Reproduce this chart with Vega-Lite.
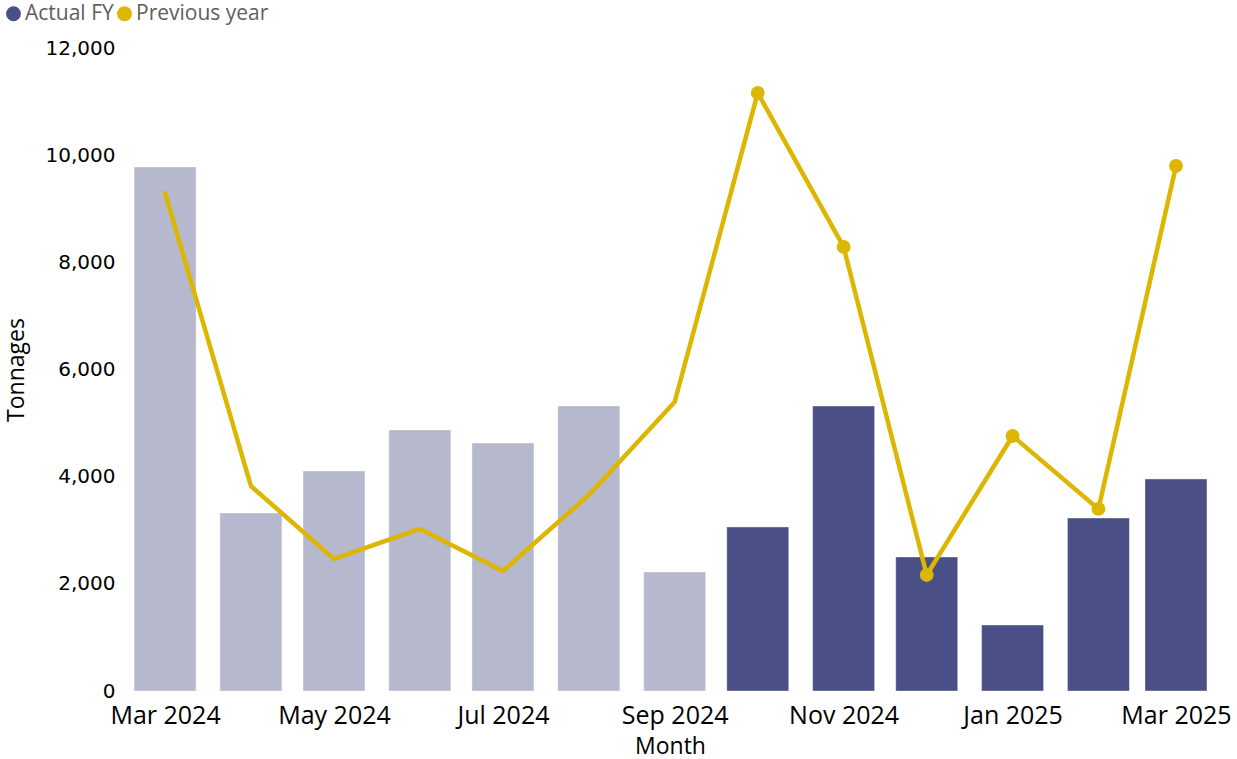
{
  "$schema": "https://vega.github.io/schema/vega-lite/v6.json",
  "width": 1090,
  "height": 643,
  "autosize": {"type": "none"},
  "padding": {"left": 125, "top": 48, "right": 22, "bottom": 68},
  "background": "white",
  "config": {
    "view": {"stroke": null},
    "font": "Open Sans"
  },
  "data": {
    "values": [
      {"month": "2024-03-01", "series": "Actual FY", "value": 9780, "period": "earlier"},
      {"month": "2024-04-01", "series": "Actual FY", "value": 3322, "period": "earlier"},
      {"month": "2024-05-01", "series": "Actual FY", "value": 4106, "period": "earlier"},
      {"month": "2024-06-01", "series": "Actual FY", "value": 4871, "period": "earlier"},
      {"month": "2024-07-01", "series": "Actual FY", "value": 4629, "period": "earlier"},
      {"month": "2024-08-01", "series": "Actual FY", "value": 5319, "period": "earlier"},
      {"month": "2024-09-01", "series": "Actual FY", "value": 2221, "period": "earlier"},
      {"month": "2024-10-01", "series": "Actual FY", "value": 3061, "period": "selected"},
      {"month": "2024-11-01", "series": "Actual FY", "value": 5319, "period": "selected"},
      {"month": "2024-12-01", "series": "Actual FY", "value": 2501, "period": "selected"},
      {"month": "2025-01-01", "series": "Actual FY", "value": 1232, "period": "selected"},
      {"month": "2025-02-01", "series": "Actual FY", "value": 3229, "period": "selected"},
      {"month": "2025-03-01", "series": "Actual FY", "value": 3957, "period": "selected"},
      {"month": "2024-03-01", "series": "Previous year", "value": 9295, "period": "earlier"},
      {"month": "2024-04-01", "series": "Previous year", "value": 3826, "period": "earlier"},
      {"month": "2024-05-01", "series": "Previous year", "value": 2464, "period": "earlier"},
      {"month": "2024-06-01", "series": "Previous year", "value": 3024, "period": "earlier"},
      {"month": "2024-07-01", "series": "Previous year", "value": 2240, "period": "earlier"},
      {"month": "2024-08-01", "series": "Previous year", "value": 3658, "period": "earlier"},
      {"month": "2024-09-01", "series": "Previous year", "value": 5394, "period": "earlier"},
      {"month": "2024-10-01", "series": "Previous year", "value": 11161, "period": "selected"},
      {"month": "2024-11-01", "series": "Previous year", "value": 8287, "period": "selected"},
      {"month": "2024-12-01", "series": "Previous year", "value": 2165, "period": "selected"},
      {"month": "2025-01-01", "series": "Previous year", "value": 4759, "period": "selected"},
      {"month": "2025-02-01", "series": "Previous year", "value": 3397, "period": "selected"},
      {"month": "2025-03-01", "series": "Previous year", "value": 9798, "period": "selected"}
    ]
  },
  "encoding": {
    "x": {
      "field": "month",
      "type": "temporal",
      "title": "Month",
      "scale": {
        "type": "utc",
        "nice": false,
        "padding": 0,
        "domain": [
          {"year": 2024, "month": 2, "date": 15, "hours": 13, "utc": true},
          {"year": 2025, "month": 3, "date": 15, "hours": 2, "utc": true}
        ]
      },
      "axis": {
        "format": "%b %Y",
        "tickCount": {"interval": "month", "step": 2},
        "domain": false,
        "ticks": false,
        "grid": false,
        "labelFont": "Open Sans",
        "labelFontSize": 25,
        "labelColor": "#000000",
        "labelPadding": 12,
        "labelOverlap": false,
        "labelFlush": false,
        "titleFont": "Open Sans",
        "titleFontSize": 23,
        "titleFontWeight": "normal",
        "titleColor": "#000000",
        "titlePadding": 7
      }
    },
    "y": {
      "field": "value",
      "type": "quantitative",
      "title": "Tonnages",
      "scale": {"domain": [0, 12000], "nice": false, "zero": true},
      "axis": {
        "values": [0, 2000, 4000, 6000, 8000, 10000, 12000],
        "format": ",d",
        "domain": false,
        "ticks": false,
        "grid": false,
        "labelFont": "DejaVu Sans",
        "labelFontSize": 20,
        "labelColor": "#000000",
        "labelPadding": 10,
        "titleFont": "Open Sans",
        "titleFontSize": 23,
        "titleFontWeight": "normal",
        "titleColor": "#000000",
        "titlePadding": 17
      }
    }
  },
  "layer": [
    {
      "transform": [{"filter": "datum.series === 'Actual FY'"}],
      "mark": {"type": "bar", "width": 62, "stroke": "#ffffff", "strokeOpacity": 0.4, "strokeWidth": 1},
      "encoding": {
        "color": {
          "field": "series",
          "type": "nominal",
          "scale": {"domain": ["Actual FY", "Previous year"], "range": ["#4A5085", "#DCB600"]},
          "legend": {
            "title": null,
            "orient": "none",
            "direction": "horizontal",
            "legendX": -122,
            "legendY": -45,
            "symbolType": "circle",
            "symbolSize": 220,
            "symbolStrokeWidth": 0,
            "labelFont": "Open Sans",
            "labelFontSize": 21,
            "labelColor": "#605E5C",
            "labelOffset": 1,
            "columnPadding": 0
          }
        },
        "opacity": {
          "condition": {"test": "datum.period === 'earlier'", "value": 0.4},
          "value": 1
        }
      }
    },
    {
      "transform": [{"filter": "datum.series === 'Previous year'"}],
      "mark": {"type": "line", "color": "#DCB600", "strokeWidth": 4.5, "strokeCap": "round", "strokeJoin": "round"},
      "encoding": {}
    },
    {
      "transform": [{"filter": "datum.series === 'Previous year' && datum.period === 'selected'"}],
      "mark": {"type": "point", "filled": true, "color": "#DCB600", "size": 190, "opacity": 1},
      "encoding": {}
    }
  ]
}
